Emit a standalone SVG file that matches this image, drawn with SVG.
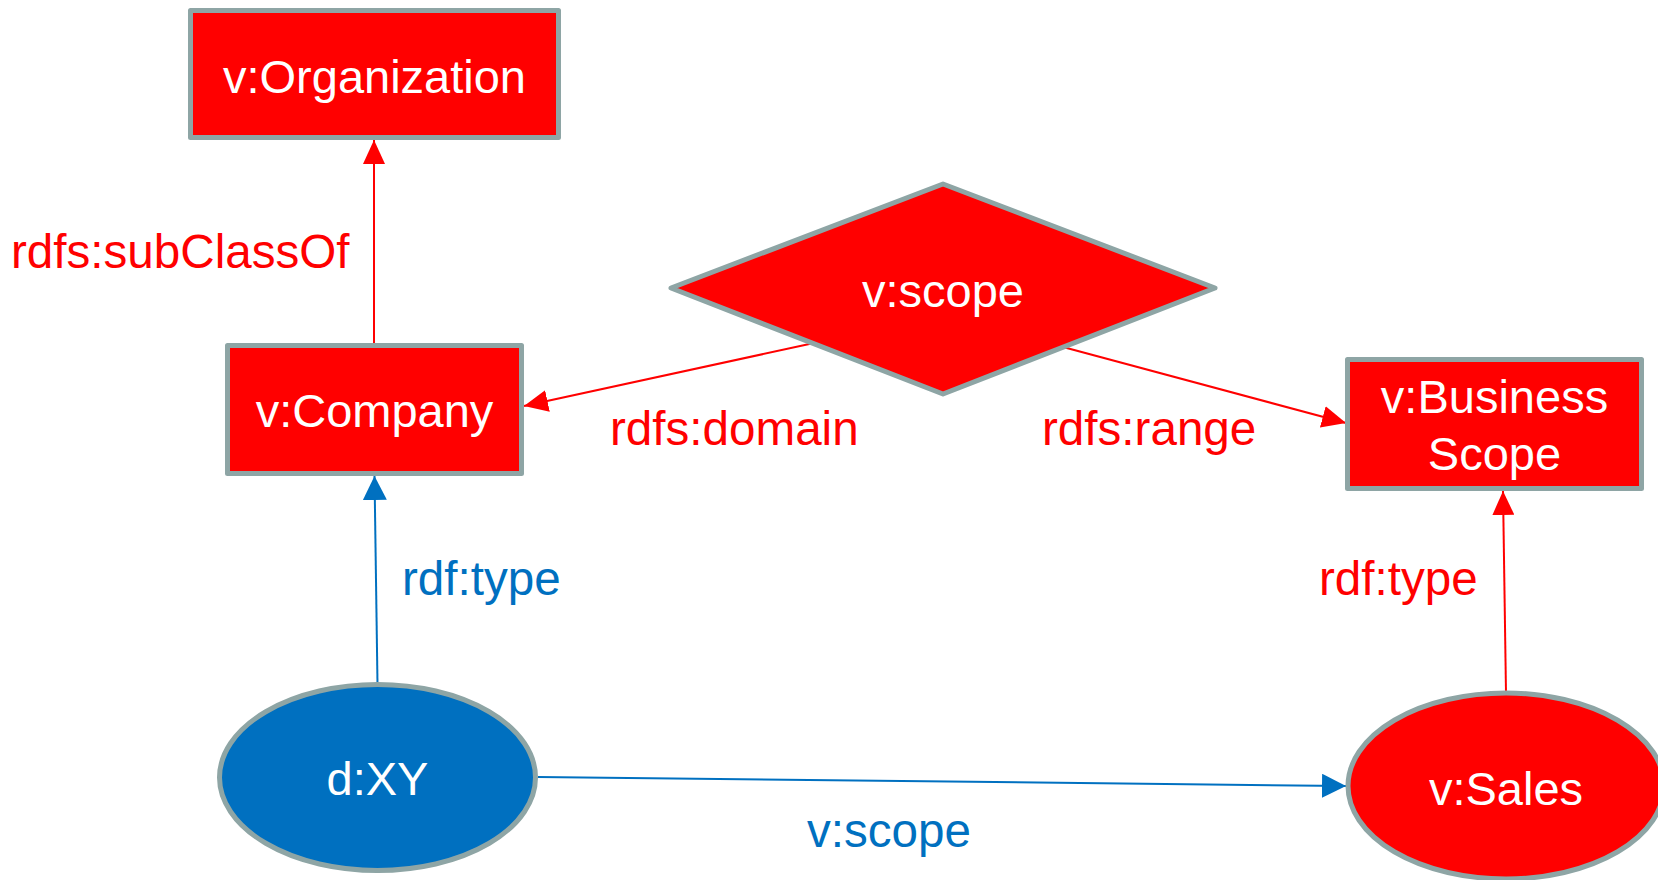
<svg xmlns="http://www.w3.org/2000/svg" width="1658" height="880" viewBox="0 0 1658 880">
<style>
.node{stroke:#8ea5a5;stroke-width:5;stroke-linejoin:round}
.red{fill:#ff0000}
.blue{fill:#0070c0}
.nt{font-family:"Liberation Sans",Arial,sans-serif;font-size:47px;fill:#ffffff;text-anchor:middle}
.lbl{font-family:"Liberation Sans",Arial,sans-serif;font-size:47.6px}
.lr{fill:#ff0000}
.lb{fill:#0070c0}
.er{stroke:#ff0000;stroke-width:2;fill:none}
.eb{stroke:#0070c0;stroke-width:2;fill:none}
</style>
<defs>
<marker id="ar" markerUnits="userSpaceOnUse" markerWidth="26" markerHeight="22" refX="24" refY="11" orient="auto">
<path d="M0,0 L24,11 L0,22 z" fill="#ff0000"/>
</marker>
<marker id="ab" markerUnits="userSpaceOnUse" markerWidth="26" markerHeight="24" refX="24" refY="12" orient="auto">
<path d="M0,0 L24,12 L0,24 z" fill="#0070c0"/>
</marker>
</defs>
<rect width="1658" height="880" fill="#ffffff"/>
<g id="connectors">
<line class="er" x1="374" y1="345" x2="374" y2="140" marker-end="url(#ar)"/>
<line class="er" x1="814" y1="343" x2="524" y2="406" marker-end="url(#ar)"/>
<line class="er" x1="1063" y1="347" x2="1346" y2="423" marker-end="url(#ar)"/>
<line class="eb" x1="377.5" y1="684" x2="374.5" y2="476" marker-end="url(#ab)"/>
<line class="er" x1="1506" y1="693" x2="1503" y2="491" marker-end="url(#ar)"/>
<line class="eb" x1="538" y1="777" x2="1346" y2="786" marker-end="url(#ab)"/>
</g>
<g id="labels">
<text class="lbl lr" x="11" y="268">rdfs:subClassOf</text>
<text class="lbl lr" x="610" y="445">rdfs:domain</text>
<text class="lbl lr" x="1042" y="445">rdfs:range</text>
<text class="lbl lb" x="402" y="595">rdf:type</text>
<text class="lbl lr" x="1319" y="595">rdf:type</text>
<text class="lbl lb" x="807" y="847">v:scope</text>
</g>
<g id="organization">
<rect class="node red" x="190.5" y="10.5" width="368" height="127"/>
<text class="nt" x="374.5" y="93">v:Organization</text>
</g>
<g id="company">
<rect class="node red" x="227.5" y="345.5" width="294" height="128"/>
<text class="nt" x="374.5" y="427">v:Company</text>
</g>
<g id="scope">
<polygon class="node red" points="943,184 1215,288 943,394 671,288"/>
<text class="nt" x="943" y="307">v:scope</text>
</g>
<g id="businessscope">
<rect class="node red" x="1347.5" y="359.5" width="294" height="129"/>
<text class="nt" x="1494.5" y="413">v:Business</text>
<text class="nt" x="1494.5" y="470">Scope</text>
</g>
<g id="xy">
<ellipse class="node blue" cx="377.5" cy="777.5" rx="158" ry="93"/>
<text class="nt" x="377.5" y="795">d:XY</text>
</g>
<g id="sales">
<ellipse class="node red" cx="1506" cy="786" rx="158" ry="93"/>
<text class="nt" x="1506" y="805">v:Sales</text>
</g>
</svg>
